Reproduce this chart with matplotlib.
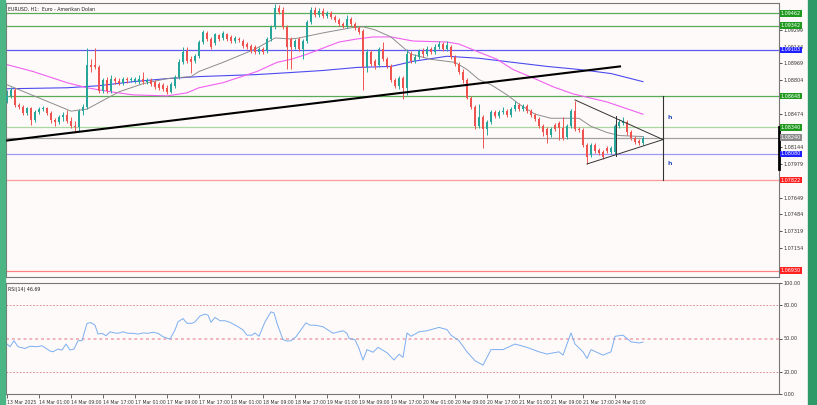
import numpy as np
import matplotlib.pyplot as plt
from matplotlib.patches import Rectangle
from matplotlib.transforms import blended_transform_factory

# EURUSD H1, first bar = 13 Mar 2025 17:00
opens = [
    1.0860, 1.0865, 1.0871, 1.0856, 1.0854, 1.0848, 1.0853, 1.0841, 1.0849, 1.0852,
    1.0853, 1.0848, 1.0841, 1.0839, 1.0844, 1.0846, 1.0840, 1.0835, 1.0834, 1.0850,
    1.0854, 1.0895, 1.0895, 1.0893, 1.0870, 1.0881, 1.0870, 1.0882, 1.0880, 1.0878,
    1.0882, 1.0881, 1.0880, 1.0879, 1.0882, 1.0879, 1.0881, 1.0879, 1.0877, 1.0876,
    1.0873, 1.0869, 1.0875, 1.0884, 1.0898, 1.0909, 1.0901, 1.0899, 1.0904, 1.0918,
    1.0927, 1.0921, 1.0917, 1.0925, 1.0922, 1.0926, 1.0923, 1.0919, 1.0921, 1.0919,
    1.0916, 1.0914, 1.0913, 1.0908, 1.0911, 1.0909, 1.0921, 1.0933, 1.0951, 1.0950,
    1.0933, 1.0921, 1.0913, 1.0921, 1.0911, 1.0919, 1.0938, 1.0950, 1.0945, 1.0949,
    1.0944, 1.0947, 1.0943, 1.0940, 1.0936, 1.0934, 1.0941, 1.0936, 1.0932, 1.0929,
    1.0893, 1.0908, 1.0899, 1.0895, 1.0911, 1.0901, 1.0894, 1.0881, 1.0875, 1.0883,
    1.0873, 1.0906, 1.0899, 1.0903, 1.0909, 1.0906, 1.0911, 1.0908, 1.0913, 1.0916,
    1.0911, 1.0913, 1.0903, 1.0896, 1.0889, 1.0881, 1.0863, 1.0854, 1.0835, 1.0844,
    1.0832, 1.0839, 1.0849, 1.0845, 1.0849, 1.0850, 1.0846, 1.0852, 1.0856, 1.0852,
    1.0855, 1.0850, 1.0846, 1.0842, 1.0835, 1.0832, 1.0827, 1.0836, 1.0838, 1.0833,
    1.0825, 1.0835, 1.0850, 1.0832, 1.0831, 1.0817, 1.0807, 1.0817, 1.0812, 1.0810,
    1.0814, 1.0810, 1.0810, 1.0835, 1.0838, 1.0839, 1.0829, 1.0824, 1.0821, 1.0819,
]
highs = [
    1.0871, 1.0874, 1.0873, 1.0858, 1.0856, 1.0854, 1.0854, 1.0851, 1.0854, 1.0855,
    1.0854, 1.0850, 1.0843, 1.0846, 1.0849, 1.0851, 1.0844, 1.0840, 1.0852, 1.0857,
    1.0912, 1.0901, 1.0912, 1.0895, 1.0883, 1.0884, 1.0886, 1.0884, 1.0883, 1.0884,
    1.0884, 1.0884, 1.0884, 1.0886, 1.0889, 1.0883, 1.0883, 1.0881, 1.0879, 1.0878,
    1.0876, 1.0879, 1.0886, 1.0901, 1.0913, 1.0913, 1.0904, 1.0906, 1.0920, 1.0930,
    1.0929, 1.0923, 1.0927, 1.0926, 1.0929, 1.0927, 1.0925, 1.0924, 1.0923, 1.0921,
    1.0918, 1.0916, 1.0915, 1.0913, 1.0913, 1.0923, 1.0935, 1.0955, 1.0954, 1.0952,
    1.0935, 1.0923, 1.0921, 1.0923, 1.0921, 1.0940, 1.0952, 1.0952, 1.0951, 1.0951,
    1.0949, 1.0949, 1.0945, 1.0942, 1.0938, 1.0945, 1.0943, 1.0938, 1.0934, 1.0931,
    1.0911, 1.0910, 1.0901, 1.0913, 1.0918, 1.0903, 1.0896, 1.0883, 1.0885, 1.0885,
    1.0911, 1.0909, 1.0906, 1.0911, 1.0912, 1.0914, 1.0913, 1.0916, 1.0919, 1.0918,
    1.0919, 1.0915, 1.0905, 1.0898, 1.0891, 1.0883, 1.0865, 1.0856, 1.0857, 1.0846,
    1.0841, 1.0851, 1.0851, 1.0851, 1.0854, 1.0852, 1.0854, 1.0860, 1.0858, 1.0857,
    1.0857, 1.0852, 1.0848, 1.0844, 1.0837, 1.0834, 1.0834, 1.0838, 1.0840, 1.0844,
    1.0837, 1.0852, 1.0860, 1.0834, 1.0833, 1.0819, 1.0819, 1.0819, 1.0814, 1.0812,
    1.0816, 1.0816, 1.0837, 1.0842, 1.0844, 1.0841, 1.0831, 1.0826, 1.0823, 1.0826,
]
lows = [
    1.0858, 1.0863, 1.0854, 1.0852, 1.0846, 1.0846, 1.0836, 1.0839, 1.0847, 1.0850,
    1.0846, 1.0838, 1.0835, 1.0837, 1.0840, 1.0838, 1.0833, 1.0830, 1.0829, 1.0846,
    1.0852, 1.0889, 1.0891, 1.0868, 1.0868, 1.0868, 1.0868, 1.0877, 1.0876, 1.0876,
    1.0878, 1.0879, 1.0878, 1.0877, 1.0877, 1.0877, 1.0875, 1.0872, 1.0871, 1.0870,
    1.0867, 1.0868, 1.0873, 1.0882, 1.0896, 1.0897, 1.0888, 1.0897, 1.0902, 1.0916,
    1.0919, 1.0911, 1.0915, 1.0919, 1.0920, 1.0919, 1.0917, 1.0917, 1.0918, 1.0912,
    1.0911, 1.0907, 1.0906, 1.0906, 1.0906, 1.0907, 1.0919, 1.0931, 1.0946, 1.0931,
    1.0891, 1.0891, 1.0911, 1.0909, 1.0901, 1.0917, 1.0936, 1.0943, 1.0943, 1.0942,
    1.0942, 1.0941, 1.0938, 1.0934, 1.0932, 1.0932, 1.0934, 1.0930, 1.0926, 1.0871,
    1.0889, 1.0894, 1.0891, 1.0893, 1.0899, 1.0892, 1.0879, 1.0873, 1.0872, 1.0862,
    1.0866, 1.0897, 1.0897, 1.0901, 1.0903, 1.0904, 1.0906, 1.0906, 1.0911, 1.0909,
    1.0909, 1.0901, 1.0894, 1.0887, 1.0878, 1.0862, 1.0852, 1.0832, 1.0833, 1.0814,
    1.0827, 1.0837, 1.0843, 1.0843, 1.0847, 1.0844, 1.0844, 1.0850, 1.0850, 1.0850,
    1.0848, 1.0844, 1.0840, 1.0833, 1.0826, 1.0819, 1.0825, 1.0830, 1.0822, 1.0822,
    1.0823, 1.0833, 1.0830, 1.0829, 1.0815, 1.0798, 1.0805, 1.0809, 1.0807, 1.0803,
    1.0809, 1.0808, 1.0808, 1.0833, 1.0836, 1.0827, 1.0822, 1.0818, 1.0817, 1.0817,
]
closes = [
    1.0865, 1.0871, 1.0856, 1.0854, 1.0848, 1.0853, 1.0841, 1.0849, 1.0852, 1.0853,
    1.0848, 1.0841, 1.0839, 1.0844, 1.0846, 1.0840, 1.0835, 1.0834, 1.0850, 1.0854,
    1.0895, 1.0893, 1.0893, 1.0870, 1.0881, 1.0870, 1.0882, 1.0880, 1.0878, 1.0882,
    1.0881, 1.0882, 1.0882, 1.0882, 1.0879, 1.0881, 1.0877, 1.0874, 1.0873, 1.0872,
    1.0869, 1.0877, 1.0884, 1.0898, 1.0908, 1.0899, 1.0898, 1.0904, 1.0918, 1.0928,
    1.0921, 1.0913, 1.0926, 1.0921, 1.0927, 1.0921, 1.0919, 1.0922, 1.0920, 1.0914,
    1.0913, 1.0909, 1.0908, 1.0911, 1.0908, 1.0921, 1.0933, 1.0951, 1.0948, 1.0933,
    1.0913, 1.0913, 1.0919, 1.0911, 1.0919, 1.0938, 1.0950, 1.0945, 1.0949, 1.0944,
    1.0947, 1.0943, 1.0940, 1.0936, 1.0934, 1.0941, 1.0936, 1.0932, 1.0928, 1.0893,
    1.0908, 1.0896, 1.0894, 1.0911, 1.0901, 1.0894, 1.0881, 1.0875, 1.0883, 1.0873,
    1.0906, 1.0899, 1.0903, 1.0909, 1.0906, 1.0911, 1.0908, 1.0913, 1.0916, 1.0911,
    1.0915, 1.0903, 1.0896, 1.0889, 1.0881, 1.0863, 1.0854, 1.0835, 1.0844, 1.0832,
    1.0839, 1.0849, 1.0845, 1.0849, 1.0850, 1.0846, 1.0852, 1.0856, 1.0852, 1.0855,
    1.0850, 1.0846, 1.0842, 1.0835, 1.0829, 1.0827, 1.0832, 1.0832, 1.0833, 1.0824,
    1.0835, 1.0850, 1.0832, 1.0831, 1.0817, 1.0805, 1.0817, 1.0811, 1.0809, 1.0805,
    1.0811, 1.0814, 1.0835, 1.0839, 1.0840, 1.0829, 1.0824, 1.0820, 1.0819, 1.0824,
]

# moving averages (bar index, price)
ma_gray_x = [0, 8, 16, 20, 28, 34, 40, 46, 48, 54, 62, 67, 71, 73, 79, 86, 89, 92, 96,
             101, 106, 110, 112, 115, 118, 121, 125, 128, 132, 136, 140, 143, 146, 150, 153, 159]
ma_gray_y = [1.0876, 1.0863, 1.0850, 1.0852, 1.0869, 1.0877, 1.0882, 1.0884, 1.0889, 1.0898,
             1.0911, 1.0922, 1.0921, 1.0922, 1.0927, 1.0932, 1.0933, 1.0930, 1.0923,
             1.0906, 1.0901, 1.0899, 1.0898, 1.0891, 1.0881, 1.0876, 1.0866, 1.0857,
             1.0847, 1.0843, 1.0843, 1.0843, 1.0835, 1.0829, 1.0826, 1.0825]
ma_pink_x = [-0.25, 6.5, 15, 20, 26, 31.5, 40, 45, 48, 54, 62.5, 67.5, 71, 75, 79, 83, 87.5,
             91.5, 96, 101.5, 110, 113, 118, 122.5, 126.5, 132.5, 136.5, 141.5, 150, 159]
ma_pink_y = [1.0896, 1.0889, 1.0878, 1.0873, 1.0869, 1.0866, 1.0865, 1.0868, 1.0873, 1.0878,
             1.0889, 1.0898, 1.0901, 1.0906, 1.0912, 1.0918, 1.0921, 1.0923, 1.0923,
             1.0919, 1.0918, 1.0916, 1.0908, 1.0901, 1.0891, 1.0881, 1.0874, 1.0867,
             1.0859, 1.0847]
ma_blue_x = [-0.25, 15, 23, 31.5, 40, 48, 62.5, 71, 79, 87.5, 96, 101.5, 110, 118, 126.5,
             135, 143, 151, 159]
ma_blue_y = [1.0872, 1.0873, 1.0875, 1.0879, 1.0882, 1.0884, 1.0886, 1.0888, 1.0890, 1.0893,
             1.0894, 1.0899, 1.0904, 1.0902, 1.0898, 1.0894, 1.0891, 1.0887, 1.0879]

# RSI(14)
rsi_x = [0, 0.75, 1.75, 2.75, 4.5, 5.75, 7.5, 8.75, 10.75, 11.5, 12.75, 13.75, 14.75, 15.75,
         16.75, 17.75, 18.75, 20, 21, 22, 22.75, 23.75, 24.75, 25.75, 27, 27.75, 29, 30.25,
         31.5, 32.75, 34, 35.25, 36.5, 37.75, 39, 40.75, 42, 42.75, 44, 45, 46.25, 47, 48.25,
         49.5, 50.25, 51, 52, 53.25, 54.5, 55.75, 57.75, 59, 60, 61.25, 62, 63, 64.5, 66,
         66.75, 67.5, 69, 70, 71, 72.25, 74.75, 75.75, 77, 79, 81.5, 84, 85, 85.5, 87, 88,
         89, 90, 91.5, 92.75, 95, 96.75, 98, 99, 100, 101, 103, 105, 108, 110, 111, 113,
         115, 117, 119, 120, 121, 124, 127, 130, 133, 135, 138, 139, 141, 142, 144, 145,
         146, 149, 151, 152, 154, 156, 158, 159]
rsi_v = [45, 42.6, 48, 42.6, 41, 43, 42.6, 43.5, 38.7, 38, 40.5, 39.6, 45, 39.6,
         40.5, 48, 48, 63.7, 64.3, 62, 54, 54.7, 52.5, 56, 55, 54.7, 56, 54.7,
         54.7, 54, 55, 54.7, 55.6, 54.7, 51.6, 49.5, 57.7, 65, 68, 63.7, 63.7, 65, 70.3,
         72, 71, 64.6, 69, 66, 66, 64.6, 60.6, 57.7, 53, 53, 55, 52, 65, 74,
         73, 63.7, 49, 47.7, 48, 51.6, 64.2, 62, 62, 60.6, 54.7, 57, 54.7, 50, 49, 41,
         30.6, 40, 37.6, 42, 37.2, 30.6, 35.8, 33, 55, 52, 56, 57, 60, 58, 53, 48,
         38, 30, 26, 33, 40, 40, 45, 42, 38, 36, 38, 35, 55, 45, 38, 32,
         40, 35, 38, 52, 53, 47, 46, 46.69]

levels = [1.09462, 1.09342, 1.09103, 1.08648, 1.08340, 1.08240, 1.08080, 1.07822, 1.06930]
level_colors = ['#5aaa5a', '#5aaa5a', '#5a5af0', '#5aaa5a', '#a8d8a0', '#a0a0a0',
                '#9a9af5', '#ff9a9a', '#ff8080']
box_colors = ['#1f9a1f', '#1f9a1f', '#2020ff', '#1f9a1f', '#1f9a1f', '#8c8c8c',
              '#2020ff', '#ff2020', '#ff2020']
price_ticks = [1.07154, 1.07319, 1.07484, 1.07649, 1.07979, 1.08144,
               1.08474, 1.08804, 1.08969, 1.09134, 1.09299]

time_ticks = [0, 8, 16, 24, 32, 40, 48, 56, 64, 72, 80, 88, 96, 104, 112, 120, 128, 136, 144, 152]
time_labels = ['13 Mar 2025', '14 Mar 01:00', '14 Mar 09:00', '14 Mar 17:00', '17 Mar 01:00',
               '17 Mar 09:00', '17 Mar 17:00', '18 Mar 01:00', '18 Mar 09:00', '18 Mar 17:00',
               '19 Mar 01:00', '19 Mar 09:00', '19 Mar 17:00', '20 Mar 01:00', '20 Mar 09:00',
               '20 Mar 17:00', '21 Mar 01:00', '21 Mar 09:00', '21 Mar 17:00', '24 Mar 01:00']

BG = '#fffafa'
UP = '#26a69a'
DN = '#ef5350'
FS = 3.5

fig = plt.figure(figsize=(8.17, 4.05), dpi=100)
fig.patch.set_facecolor(BG)
fig.patches.append(Rectangle((0, 0), 5 / 817, 1, transform=fig.transFigure, color='#4bb583'))
fig.patches.append(Rectangle((808 / 817, 0), 9 / 817, 1, transform=fig.transFigure, color='#2e9a68'))

ax = fig.add_axes([6 / 817, 128 / 405, 773 / 817, 274 / 405])
rx = fig.add_axes([6 / 817, 11 / 405, 773 / 817, 111 / 405])
for a in (ax, rx):
    a.set_facecolor(BG)
    a.set_xlim(-0.25, 193)
    for s in a.spines.values():
        s.set_color('#777777')
        s.set_linewidth(0.8)

ax.set_ylim(1.06868, 1.09564)

# level lines
for lv, c in zip(levels, level_colors):
    ax.axhline(lv, color=c, lw=0.9, zorder=1)

# moving averages
ax.plot(ma_blue_x, ma_blue_y, color='#4b4bef', lw=0.8, zorder=2)
ax.plot(ma_pink_x, ma_pink_y, color='#f060f0', lw=0.8, zorder=2)
ax.plot(ma_gray_x, ma_gray_y, color='#8c8c8c', lw=0.7, zorder=2)

# candles
o = np.array(opens)
c = np.array(closes)
idx = np.arange(len(o))
col = np.where(c >= o, UP, DN)
ax.vlines(idx, lows, highs, colors=col, lw=0.7, zorder=3)
body = np.where(np.abs(c - o) < 0.00004, 0.00004, c - o)
ax.bar(idx, body, bottom=o, width=0.65, color=col, lw=0, zorder=4)

# trend line, triangle, verticals
ax.plot([-0.25, 153.25], [1.0821, 1.0894], color='black', lw=1.5, zorder=5)
ax.plot([142, 164, 145], [1.0861, 1.0822, 1.0798], color='#333333', lw=0.7, zorder=5)
ax.plot([152.25, 152.25], [1.0845, 1.0806], color='#333333', lw=0.7, zorder=5)
ax.plot([164, 164], [1.08648, 1.07822], color='#333333', lw=0.8, zorder=5)
for yv in (1.0844, 1.0798):
    ax.text(165.2, yv, 'h', fontsize=4.5, color='#3050c0', fontweight='bold',
            va='center', ha='left')

# price axis
ax.set_yticks(price_ticks)
ax.set_yticklabels([f'{v:.5f}' for v in price_ticks])
ax.tick_params(axis='y', left=False, labelleft=False, right=True, labelright=True,
               length=2, width=0.6, pad=1, labelsize=FS, colors='#333333')
ax.tick_params(axis='x', bottom=False, labelbottom=False)
tr = blended_transform_factory(ax.transAxes, ax.transData)
for lv, bc in zip(levels, box_colors):
    ax.text(1.0025, lv, f'{lv:.5f}', transform=tr, fontsize=FS, color='white',
            va='center', ha='left', zorder=10, clip_on=False,
            bbox=dict(boxstyle='square,pad=0.15', fc=bc, ec='none'))
ax.plot([193, 193], [1.0834, 1.0793], color='black', lw=2, clip_on=False, zorder=6)
ax.text(0.003, 0.988, 'EURUSD, H1:  Euro - Amerikan Doları', transform=ax.transAxes,
        fontsize=3.4, va='top', ha='left', color='#222222')

# RSI panel
rx.set_ylim(0, 100)
rx.axhline(80, color='#d77b7b', lw=0.6, ls=(0, (2, 2)))
rx.axhline(20, color='#d77b7b', lw=0.6, ls=(0, (2, 2)))
rx.axhline(50, color='#f0b4bc', lw=1.4, ls=(0, (1.5, 1.5)))
rx.plot(rsi_x, rsi_v, color='#7aaef0', lw=0.7)
rx.set_yticks([0, 20, 50, 80, 100])
rx.set_yticklabels(['0.00', '20.00', '50.00', '80.00', '100.00'])
rx.tick_params(axis='y', left=False, labelleft=False, right=True, labelright=True,
               length=2, width=0.6, pad=1, labelsize=FS, colors='#333333')
rx.set_xticks(time_ticks)
rx.set_xticklabels(time_labels)
rx.tick_params(axis='x', length=3, width=0.5, pad=1, labelsize=3.3, colors='#333333')
for lab in rx.get_xticklabels():
    lab.set_ha('left')
rx.text(0.003, 0.96, 'RSI(14) 46.69', transform=rx.transAxes, fontsize=3.4,
        va='top', ha='left', color='#222222')

fig.savefig('out.png', dpi=100, facecolor=BG)
